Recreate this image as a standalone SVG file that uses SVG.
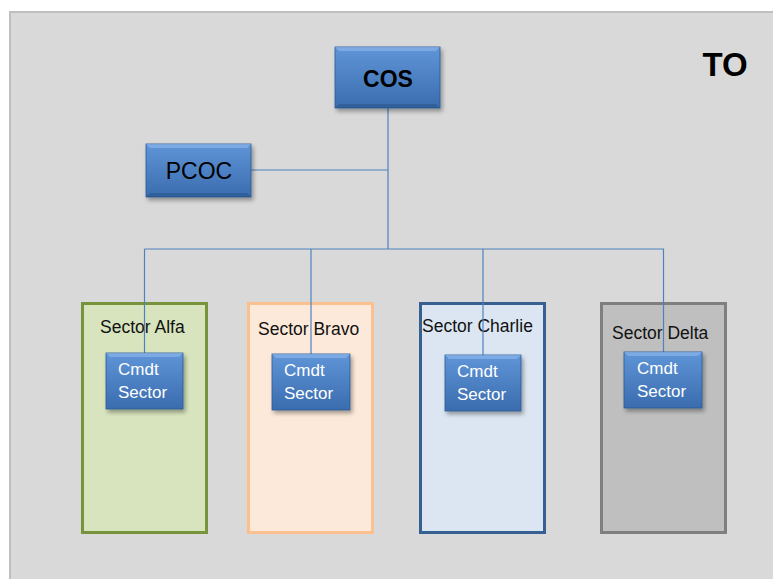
<svg xmlns="http://www.w3.org/2000/svg" width="773" height="579" viewBox="0 0 773 579">
<style>
.lbl{font-family:"Liberation Sans",Arial,sans-serif;fill:#000}
.sec{font-family:"Liberation Sans",Arial,sans-serif;fill:#111;font-size:17.5px}
.cmd{font-family:"Liberation Sans",Arial,sans-serif;fill:#fff;font-size:17px}
.conn{stroke:#4f81bd;stroke-width:1.2;fill:none}
.btn{fill:url(#blue);stroke:#2c5a92;stroke-width:0.8;filter:url(#sh)}
.hl{fill:#8ab4e8;opacity:0.7}
.dk{fill:#234d80;opacity:0.45}
</style>
<defs>
<linearGradient id="blue" x1="0" y1="0" x2="0" y2="1">
<stop offset="0" stop-color="#5f95d8"/>
<stop offset="1" stop-color="#3a6cae"/>
</linearGradient>
<filter id="sh" x="-20%" y="-20%" width="150%" height="150%">
<feDropShadow dx="2" dy="3" stdDeviation="2" flood-color="#000" flood-opacity="0.35"/>
</filter>
</defs>
<rect x="0" y="0" width="773" height="579" fill="#fff"/>
<rect x="10" y="12" width="770" height="575" fill="#d9d9d9" stroke="#bfbfbf" stroke-width="2"/>
<text class="lbl" x="725" y="76" font-size="33" font-weight="bold" text-anchor="middle">TO</text>

<g id="sector-alfa">
<rect x="82.5" y="303.5" width="124" height="229" fill="#d7e4bd" stroke="#77933c" stroke-width="3"/>
<text class="sec" x="100" y="333">Sector Alfa</text>
</g>
<g id="sector-bravo">
<rect x="248.5" y="303.5" width="124" height="229" fill="#fde9d9" stroke="#fac090" stroke-width="3"/>
<text class="sec" x="258" y="335">Sector Bravo</text>
</g>
<g id="sector-charlie">
<rect x="420.5" y="303.5" width="124" height="229" fill="#dce6f2" stroke="#376092" stroke-width="3"/>
<text class="sec" x="422" y="332">Sector Charlie</text>
</g>
<g id="sector-delta">
<rect x="601.5" y="303.5" width="124" height="229" fill="#bfbfbf" stroke="#7f7f7f" stroke-width="3"/>
<text class="sec" x="612" y="339">Sector Delta</text>
</g>

<g id="connectors">
<path class="conn" d="M388 108 V249"/>
<path class="conn" d="M251 170 H388"/>
<path class="conn" d="M144.5 249 H664"/>
<path class="conn" d="M144.5 249 V353"/>
<path class="conn" d="M311 249 V354"/>
<path class="conn" d="M483 249 V355"/>
<path class="conn" d="M663.5 249 V352"/>
</g>

<g id="cos">
<rect class="btn" x="335" y="47" width="105" height="61"/>
<polygon class="hl" points="335,47 440,47 436,51 339,51"/>
<polygon class="dk" points="335,108 440,108 436,104 339,104"/>
<text class="lbl" x="388" y="87" font-size="23" font-weight="bold" text-anchor="middle">COS</text>
</g>
<g id="pcoc">
<rect class="btn" x="146" y="144" width="105" height="53"/>
<polygon class="hl" points="146,144 251,144 247,148 150,148"/>
<polygon class="dk" points="146,197 251,197 247,193 150,193"/>
<text class="lbl" x="199" y="179" font-size="23" text-anchor="middle">PCOC</text>
</g>

<g id="cmdt-alfa">
<rect class="btn" x="106" y="353" width="77" height="56"/>
<polygon class="hl" points="106,353 183,353 179,357 110,357"/>
<text class="cmd" x="118" y="375">Cmdt</text>
<text class="cmd" x="118" y="398">Sector</text>
</g>
<g id="cmdt-bravo">
<rect class="btn" x="272" y="354" width="78" height="56"/>
<polygon class="hl" points="272,354 350,354 346,358 276,358"/>
<text class="cmd" x="284" y="376">Cmdt</text>
<text class="cmd" x="284" y="399">Sector</text>
</g>
<g id="cmdt-charlie">
<rect class="btn" x="445" y="355" width="76" height="56"/>
<polygon class="hl" points="445,355 521,355 517,359 449,359"/>
<text class="cmd" x="457" y="377">Cmdt</text>
<text class="cmd" x="457" y="400">Sector</text>
</g>
<g id="cmdt-delta">
<rect class="btn" x="624" y="352" width="78" height="56"/>
<polygon class="hl" points="624,352 702,352 698,356 628,356"/>
<text class="cmd" x="637" y="374">Cmdt</text>
<text class="cmd" x="637" y="397">Sector</text>
</g>
</svg>
